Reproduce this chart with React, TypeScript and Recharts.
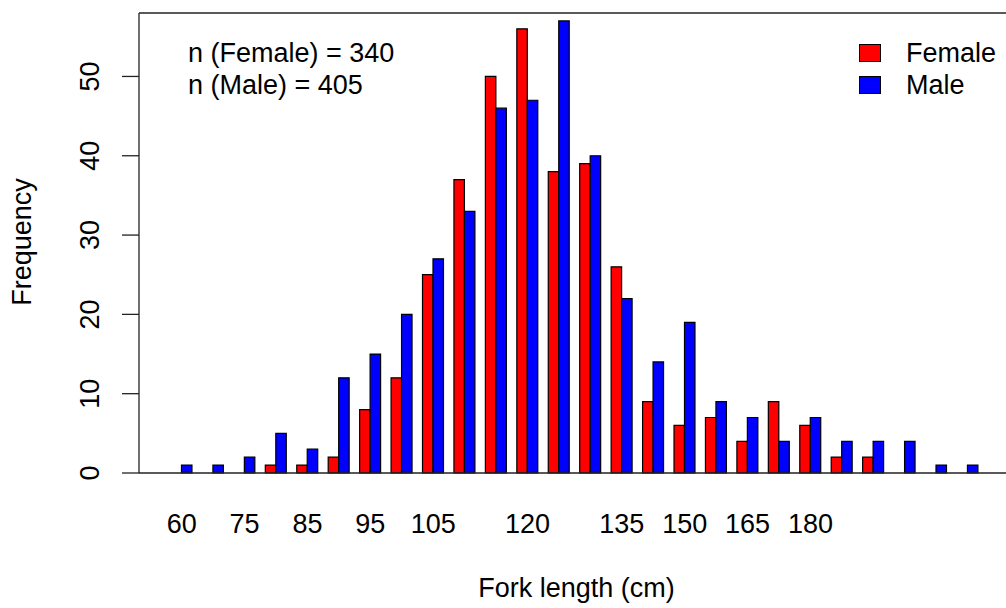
import React from 'react'
import { BarChart, Bar, XAxis, YAxis, ReferenceLine, Legend } from 'recharts'

const FONT = '"Liberation Sans", Arial, sans-serif'

// one label per 5 cm bin; R drops the ones that would overlap
const tickLabels = [
  '60', '', '75', '', '85', '', '95', '', '105', '', '', '120', '', '',
  '135', '', '150', '', '165', '', '180', '', '', '', '', '',
]
const female = [0, 0, 0, 1, 1, 2, 8, 12, 25, 37, 50, 56, 38, 39, 26, 9, 6, 7, 4, 9, 6, 2, 2, 0, 0, 0]
const male = [1, 1, 2, 5, 3, 12, 15, 20, 27, 33, 46, 47, 57, 40, 22, 14, 19, 9, 7, 4, 7, 4, 4, 4, 1, 1]
const yTicks = [0, 10, 20, 30, 40, 50]
const sampleSizes = [
  { label: 'n (Female)', n: 340 },
  { label: 'n (Male)', n: 405 },
]

const data = tickLabels.map((label, i) => ({ key: i, label, female: female[i], male: male[i] }))

const LINE = '#222'
const FS = 27

function XTick(props: any) {
  const { x, y, payload } = props
  return (
    <text x={x} y={y} textAnchor="middle" fontSize={FS} fill="#000" fontFamily={FONT}>
      {tickLabels[payload.value]}
    </text>
  )
}

function YTick(props: any) {
  const { x, y, payload } = props
  return (
    <text
      x={x}
      y={y}
      transform={`rotate(-90 ${x} ${y})`}
      textAnchor="middle"
      fontSize={FS}
      fill="#000"
      fontFamily={FONT}
    >
      {payload.value}
    </text>
  )
}

function LegendBox(props: any) {
  const items = props.payload || []
  return (
    <div style={{ fontFamily: FONT, fontSize: FS, lineHeight: '32px', color: '#000' }}>
      {items.map((p: any) => (
        <div key={p.value} style={{ display: 'flex', alignItems: 'center', height: 32 }}>
          <span
            style={{
              display: 'inline-block',
              width: 20,
              height: 16,
              background: p.color,
              border: '1px solid #000',
              marginRight: 25,
            }}
          />
          <span>{p.value}</span>
        </div>
      ))}
    </div>
  )
}

export default function App() {
  return (
    <div
      style={{
        position: 'fixed',
        left: 0,
        top: 0,
        width: 1006,
        height: 608,
        overflow: 'hidden',
        background: '#fff',
        fontFamily: FONT,
      }}
    >
      <BarChart
        width={1020}
        height={608}
        data={data}
        margin={{ top: 13, right: 9.6, bottom: 0, left: 0 }}
        barGap={0}
        barSize={10.48}
      >
        <XAxis
          dataKey="key"
          type="category"
          interval={0}
          tickLine={false}
          tickSize={0}
          tickMargin={60}
          height={135}
          padding={{ left: 27, right: 27 }}
          axisLine={{ stroke: LINE, strokeWidth: 1.3 }}
          tick={XTick}
        />
        <YAxis
          type="number"
          domain={[0, 58]}
          ticks={yTicks}
          width={139}
          tickSize={17}
          tickMargin={23}
          axisLine={{ stroke: LINE, strokeWidth: 1.3 }}
          tickLine={{ stroke: LINE, strokeWidth: 1.3 }}
          tick={YTick}
        />
        <ReferenceLine y={58} stroke={LINE} strokeWidth={1.3} />
        <Bar dataKey="female" name="Female" fill="#ff0000" stroke="#000" strokeWidth={1.2} isAnimationActive={false} />
        <Bar dataKey="male" name="Male" fill="#0000ff" stroke="#000" strokeWidth={1.2} isAnimationActive={false} />
        <Legend
          layout="horizontal"
          verticalAlign="middle"
          align="center"
          content={LegendBox}
          wrapperStyle={{ left: 859, top: 37, width: 'auto' }}
        />
      </BarChart>

      <div
        style={{
          position: 'absolute',
          left: 188,
          top: 37,
          fontSize: FS,
          lineHeight: '32px',
          color: '#000',
          whiteSpace: 'nowrap',
        }}
      >
        {sampleSizes.map((s) => (
          <div key={s.label}>
            {s.label} = {s.n}
          </div>
        ))}
      </div>

      <div
        style={{
          position: 'absolute',
          left: 22.3 - 100,
          top: 242 - 16,
          width: 200,
          height: 32,
          lineHeight: '32px',
          fontSize: FS,
          textAlign: 'center',
          color: '#000',
          transform: 'rotate(-90deg)',
        }}
      >
        Frequency
      </div>

      <div
        style={{
          position: 'absolute',
          left: 576.5 - 200,
          top: 571.5,
          width: 400,
          lineHeight: '32px',
          fontSize: FS,
          textAlign: 'center',
          color: '#000',
        }}
      >
        Fork length (cm)
      </div>
    </div>
  )
}
